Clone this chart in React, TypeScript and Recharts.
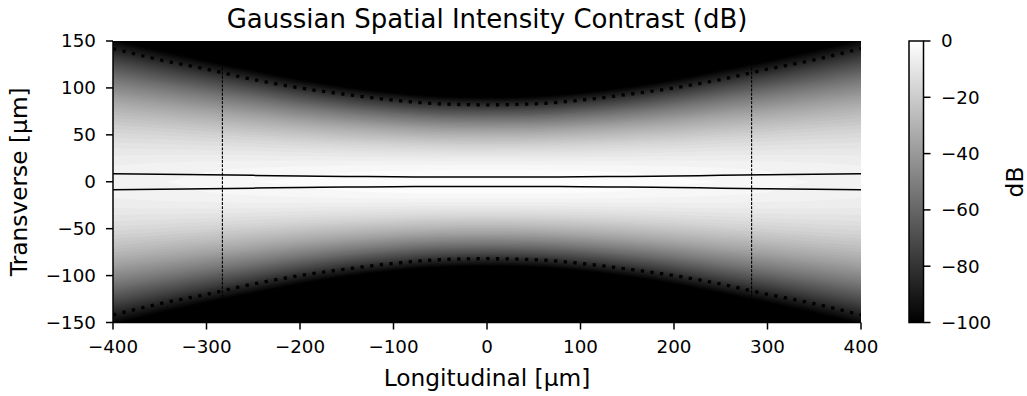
import React from 'react';
import { ComposedChart, Area, Line, XAxis, YAxis, ReferenceArea, ReferenceLine } from 'recharts';

// Longitudinal sample positions [µm]
const longitudinal = [-400, -350, -300, -250, -200, -150, -100, -50, 0, 50, 100, 150, 200, 250, 300, 350, 400];
// On-axis intensity [dB] read at each longitudinal position
const peakDb = [-4.8, -4.0, -3.3, -2.5, -1.8, -1.1, -0.5, -0.1, 0, -0.1, -0.5, -1.1, -1.8, -2.5, -3.3, -4.0, -4.8];
// Transverse half-width [µm] where the map reaches -100 dB (black)
const blackEdge = [152, 140, 129, 119, 109, 101, 95, 91, 90, 91, 95, 101, 109, 119, 129, 140, 152];
// Dotted envelope half-width [µm]
const dottedHalfWidth = [142, 130, 120, 109, 100, 93, 87, 83, 82, 83, 87, 93, 100, 109, 120, 130, 142];
// Solid inner envelope half-width [µm]
const solidHalfWidth = [8.4, 7.9, 7.4, 6.8, 6.2, 5.7, 5.3, 5.1, 5.0, 5.1, 5.3, 5.7, 6.2, 6.8, 7.4, 7.9, 8.4];
// Rayleigh range markers [µm]
const rayleighPositions = [-283, 283];

const xTicks = [-400, -300, -200, -100, 0, 100, 200, 300, 400];
const yTicks = [-150, -100, -50, 0, 50, 100, 150];
const cbarTicks = [0, -20, -40, -60, -80, -100];
const cbarRange = [-100, 0];
// colour quantisation levels (band lower bounds, dB)
const dbLevels = [
  -100, -98, -96, -94, -92, -90, -88, -86, -84, -82,
  -80, -78, -76, -74, -72, -70, -68, -66, -64, -62,
  -60, -58, -56, -54, -52, -50, -48, -46, -44, -42,
  -40, -38, -36, -34, -32, -30, -28, -26, -24, -22,
  -20, -18, -16, -14, -12, -10, -8, -6, -4, -2,
];

const FONT = '"DejaVu Sans", sans-serif';
const fmt = (v: number) => (v < 0 ? `\u2212${Math.abs(v)}` : `${v}`);
const grayFor = (level: number) => {
  const v = Math.round(255 * Math.min(1, Math.max(0, (level + 1 + 100) / 100)));
  return `rgb(${v},${v},${v})`;
};

const rows = longitudinal.map((z, i) => {
  const row: any = {
    z,
    bg: [-150, 150],
    dotU: dottedHalfWidth[i],
    dotL: -dottedHalfWidth[i],
    solU: solidHalfWidth[i],
    solL: -solidHalfWidth[i],
  };
  const p = peakDb[i];
  const e = blackEdge[i];
  dbLevels.forEach((L, j) => {
    const h = p > L ? e * Math.sqrt((p - L) / (p + 100)) : 0;
    row[`b${j}`] = [-h, h];
  });
  return row;
});

const cbarRows = [
  { x: 0, v: cbarRange },
  { x: 1, v: cbarRange },
];

const tickStyle = { fontSize: 18.3, fill: '#000', fontFamily: FONT };
const tickLineStyle = { stroke: '#000', strokeWidth: 1.5 };
const axisLineStyle = { stroke: '#000', strokeWidth: 1.5 };

export default function App() {
  return (
    <div style={{ position: 'absolute', left: 0, top: 0, width: 1027, height: 396, background: '#fff', overflow: 'hidden' }}>
      <div style={{ position: 'absolute', left: 0, top: 0 }}>
        <ComposedChart width={1027} height={396} data={rows} margin={{ top: 41, right: 166, bottom: 43.5, left: 53 }}>
          <XAxis
            dataKey="z"
            type="number"
            domain={[-400, 400]}
            allowDataOverflow
            ticks={xTicks}
            interval={0}
            tickFormatter={fmt}
            tick={tickStyle}
            tickSize={7}
            tickMargin={10.5}
            tickLine={tickLineStyle}
            axisLine={axisLineStyle}
            height={30}
          />
          <XAxis
            xAxisId="top"
            orientation="top"
            type="number"
            domain={[-400, 400]}
            height={0}
            tick={false}
            tickLine={false}
            axisLine={axisLineStyle}
          />
          <YAxis
            type="number"
            domain={[-150, 150]}
            allowDataOverflow
            ticks={yTicks}
            interval={0}
            tickFormatter={fmt}
            tick={tickStyle}
            tickSize={7}
            tickMargin={10}
            tickLine={tickLineStyle}
            axisLine={axisLineStyle}
            width={60}
          />
          <YAxis
            yAxisId="right"
            orientation="right"
            type="number"
            domain={[-150, 150]}
            width={0}
            tick={false}
            tickLine={false}
            axisLine={axisLineStyle}
          />
          <Area dataKey="bg" type="linear" stroke="none" fill="#000" fillOpacity={1} isAnimationActive={false} activeDot={false} />
          {dbLevels.map((L, j) => (
            <Area
              key={`b${j}`}
              dataKey={`b${j}`}
              type="monotone"
              stroke="none"
              fill={grayFor(L)}
              fillOpacity={1}
              isAnimationActive={false}
              activeDot={false}
            />
          ))}
          <Line dataKey="solU" type="monotone" stroke="#000" strokeWidth={1.5} dot={false} activeDot={false} isAnimationActive={false} />
          <Line dataKey="solL" type="monotone" stroke="#000" strokeWidth={1.5} dot={false} activeDot={false} isAnimationActive={false} />
          <Line dataKey="dotU" type="monotone" stroke="#000" strokeWidth={3.3} strokeDasharray="3.3 6.4" dot={false} activeDot={false} isAnimationActive={false} />
          <Line dataKey="dotL" type="monotone" stroke="#000" strokeWidth={3.3} strokeDasharray="3.3 6.4" dot={false} activeDot={false} isAnimationActive={false} />
          {rayleighPositions.map((zr) => (
            <ReferenceLine key={zr} x={zr} stroke="#000" strokeWidth={1.1} strokeDasharray="2.9 1.3" />
          ))}
        </ComposedChart>
      </div>
      <div style={{ position: 'absolute', left: 0, top: 0 }}>
        <ComposedChart width={1027} height={396} data={cbarRows} margin={{ top: 41, right: 43.5, bottom: 73.5, left: 909 }}>
          <defs>
            <linearGradient id="cbarGrad" x1="0" y1="0" x2="0" y2="1">
              <stop offset="0%" stopColor="#ffffff" />
              <stop offset="100%" stopColor="#000000" />
            </linearGradient>
          </defs>
          <XAxis dataKey="x" type="number" domain={[0, 1]} hide />
          <YAxis
            orientation="right"
            type="number"
            domain={[-100, 0]}
            ticks={cbarTicks}
            interval={0}
            tickFormatter={fmt}
            tick={tickStyle}
            tickSize={7}
            tickMargin={10.5}
            tickLine={tickLineStyle}
            axisLine={false}
            width={60}
          />
          <Area dataKey="v" type="linear" stroke="none" fill="url(#cbarGrad)" fillOpacity={1} isAnimationActive={false} activeDot={false} />
          <ReferenceArea x1={0} x2={1} y1={-100} y2={0} fill="none" fillOpacity={0} stroke="#000" strokeWidth={1.5} />
        </ComposedChart>
      </div>
      <svg width={1027} height={396} style={{ position: 'absolute', left: 0, top: 0, pointerEvents: 'none' }}>
        <text x={487} y={28.3} textAnchor="middle" fontFamily={FONT} fontSize={26} fill="#000">
          Gaussian Spatial Intensity Contrast (dB)
        </text>
        <text x={487} y={385.7} textAnchor="middle" fontFamily={FONT} fontSize={23.3} fill="#000">
          Longitudinal [µm]
        </text>
        <text x={26.5} y={181.75} textAnchor="middle" fontFamily={FONT} fontSize={23.3} fill="#000" transform="rotate(-90 26.5 181.75)">
          Transverse [µm]
        </text>
        <text x={1023} y={182} textAnchor="middle" fontFamily={FONT} fontSize={23.3} fill="#000" transform="rotate(-90 1023 182)">
          dB
        </text>
      </svg>
    </div>
  );
}
